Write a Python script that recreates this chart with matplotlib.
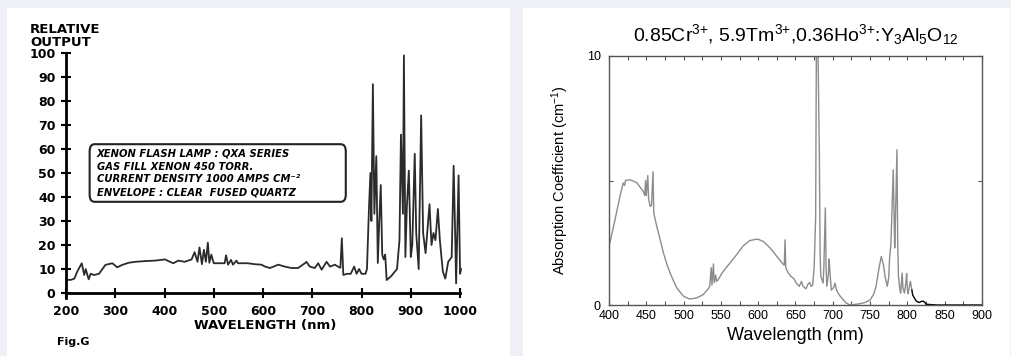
import numpy as np
import matplotlib.pyplot as plt
from matplotlib.patches import Rectangle, FancyBboxPatch

plt.rcParams['mathtext.fontset'] = 'custom'
plt.rcParams['mathtext.rm'] = 'Liberation Sans'
plt.rcParams['mathtext.it'] = 'Liberation Sans:italic'
plt.rcParams['mathtext.bf'] = 'Liberation Sans:bold'

# xenon flash lamp spectrum (left panel)
lamp_nm = [200, 210, 217, 223, 232, 237, 240, 246, 250, 257, 267, 274, 280, 294, 304, 314,
           327, 341, 361, 381, 401, 411, 418, 428, 441, 455, 461, 467, 471, 476, 480, 484,
           488, 491, 495, 500, 508, 522, 525, 529, 535, 539, 546, 549, 569, 583, 597, 603,
           614, 631, 644, 658, 671, 685, 688, 695, 705, 712, 719, 729, 736, 746, 752, 757,
           760, 763, 770, 778, 785, 790, 795, 800, 808, 811, 815, 818, 820, 823, 826, 830,
           833, 836, 839, 842, 845, 848, 851, 860, 872, 877, 880, 884, 886, 889, 892, 896,
           900, 903, 908, 911, 916, 921, 925, 930, 938, 942, 946, 950, 955, 959, 965, 970,
           976, 983, 987, 990, 992, 997, 1000, 1002]
lamp_out = [5.4, 5.5, 6, 9, 12.4, 7.5, 10, 5.7, 8, 7.5, 8, 10, 11.7, 12.4, 10.7, 11.7,
            12.6, 13, 13.3, 13.5, 14, 13, 12.4, 13.5, 13, 14, 17, 13, 19, 12, 18, 13,
            21, 12.6, 16, 12.4, 12.4, 12.4, 15.7, 11.8, 13.8, 11.8, 13.5, 12.4, 12.4, 12, 11.8, 11.1,
            10.4, 11.8, 11, 10.4, 10.4, 12.4, 13, 11, 10.4, 12.4, 9.7, 13, 11, 11.8, 11, 10.5,
            22.8, 7.5, 8, 8, 11, 8, 10, 8, 8, 10, 35, 50, 30, 87, 33, 57,
            12.5, 30, 45, 16, 14, 16, 5.4, 7, 10, 22, 66, 33, 99, 15, 36, 51,
            15, 20, 58, 25, 10, 74, 25, 16.6, 37, 20, 25, 22, 35, 22, 9, 6,
            13, 15, 53, 25, 4, 49, 8, 10]

# absorption of Cr,Tm,Ho:YAG (right panel)
abs_nm = [400, 405, 410, 415, 419, 421, 422, 428, 437, 446, 448, 449, 450, 452, 453, 455,
          457, 459, 460, 464, 468, 473, 478, 482, 486, 491, 500, 508, 517, 526, 533, 535,
          537, 538, 540, 541, 543, 544, 546, 553, 562, 571, 580, 589, 599, 607, 616, 625,
          633, 635, 636, 637, 640, 644, 648, 651, 655, 658, 660, 664, 667, 669, 671, 673,
          675, 677, 678, 680, 682, 683, 684, 687, 688, 690, 691, 692, 694, 695, 696, 698,
          701, 703, 705, 707, 710, 714, 718, 723, 736, 743, 750, 755, 758, 762, 765, 768,
          770, 773, 775, 776, 778, 781, 783, 784, 786, 787, 788, 790, 791, 793, 794, 796,
          798, 799, 800, 801, 803, 804, 806, 807, 809, 812, 816, 819, 821, 823, 825, 830,
          839, 850, 870, 900]
abs_coef = [2.35, 3.0, 3.7, 4.4, 4.9, 4.8, 5.0, 5.03, 4.92, 4.56, 4.4, 5.0, 4.4, 5.2, 4.3, 3.96,
            4.0, 5.35, 3.7, 3.16, 2.7, 2.09, 1.6, 1.28, 1.0, 0.68, 0.35, 0.24, 0.28, 0.41, 0.65, 0.75,
            1.5, 0.8, 1.65, 0.9, 1.2, 0.95, 1.0, 1.35, 1.68, 2.02, 2.38, 2.59, 2.65, 2.55, 2.29, 1.95,
            1.65, 1.6, 2.62, 1.5, 1.3, 1.15, 1.05, 0.88, 0.75, 0.95, 0.75, 0.65, 0.85, 0.9, 0.75, 0.8,
            1.5, 3.5, 10.5, 10.5, 6.0, 2.0, 1.15, 0.88, 1.5, 3.9, 1.5, 0.75, 1.2, 1.85, 1.4, 0.6,
            0.7, 0.88, 0.6, 0.48, 0.35, 0.21, 0.08, 0.0, 0.05, 0.1, 0.2, 0.45, 0.75, 1.5, 1.95, 1.6,
            1.15, 0.75, 1.1, 1.82, 2.5, 5.43, 2.29, 3.5, 6.23, 2.5, 1.15, 0.6, 0.48, 1.28, 0.7, 0.48,
            0.9, 1.26, 0.6, 0.45, 0.8, 0.95, 0.6, 0.41, 0.3, 0.15, 0.1, 0.15, 0.15, 0.12, 0.03, 0.02,
            0.0, 0.0, 0.0, 0.0]

lamp_note = ['XENON FLASH LAMP : QXA SERIES',
             'GAS FILL XENON 450 TORR.',
             'CURRENT DENSITY 1000 AMPS CM\u207b\u00b2',
             'ENVELOPE : CLEAR  FUSED QUARTZ']

fig = plt.figure(figsize=(10.12, 3.56), dpi=100)
fig.patch.set_facecolor('#eef0f6')
fig.patches.append(Rectangle((7/1012, 0), 503/1012, 1 - 8/356, transform=fig.transFigure,
                             fc='white', ec='none', zorder=-5))
fig.patches.append(Rectangle((523/1012, 0), 487/1012, 1 - 8/356, transform=fig.transFigure,
                             fc='white', ec='none', zorder=-5))

# ---- left: lamp output
ax1 = fig.add_axes([66/1012, 1 - 293/356, 398/1012, 240/356])
ax1.patch.set_alpha(0)
ax1.plot(lamp_nm, lamp_out, color='#2b2b2b', lw=1.3)
ax1.set_xlim(200, 1008)
ax1.set_ylim(0, 100)
for s in ['top', 'right']:
    ax1.spines[s].set_visible(False)
ax1.spines['left'].set_bounds(-2, 100)
ax1.spines['bottom'].set_bounds(200, 1000)
ax1.spines['left'].set_linewidth(2)
ax1.spines['bottom'].set_linewidth(2)
ax1.set_xticks(np.arange(200, 1001, 100))
ax1.set_yticks(np.arange(0, 101, 10))
ax1.tick_params(direction='inout', length=7, width=1.5, labelsize=9)
ax1.tick_params(axis='y', pad=4)
ax1.tick_params(axis='x', pad=5)
for lab in ax1.get_xticklabels() + ax1.get_yticklabels():
    lab.set_fontweight('heavy')
ax1.set_xlabel('WAVELENGTH (nm)', fontsize=9.5, fontweight='heavy', labelpad=1)
fig.text(30/1012, 1 - 23/356, 'RELATIVE\nOUTPUT', fontsize=9.5, fontweight='heavy',
         va='top', ha='left', linespacing=0.95)
fig.text(57/1012, 1 - 342/356, 'Fig.G', fontsize=8, fontweight='heavy', va='center')
ax1.add_patch(FancyBboxPatch((248, 38), 520, 24, boxstyle='round,pad=0,rounding_size=10',
                             mutation_aspect=0.3, fc='white', ec='#222222', lw=1.5))
ax1.text(262, 50, '\n'.join(lamp_note), fontsize=7.2, style='italic', fontweight='bold',
         va='center', ha='left', linespacing=1.35)

# ---- right: absorption coefficient
ax2 = fig.add_axes([609/1012, 1 - 305/356, 373/1012, 249/356])
ax2.patch.set_alpha(0)
nm = np.array(abs_nm)
coef = np.array(abs_coef)
main = nm <= 806
ax2.plot(nm[main], coef[main], color='#8c8c8c', lw=1.0)
ax2.plot(nm[nm >= 806], coef[nm >= 806], color='black', lw=1.0)
ax2.set_xlim(400, 900)
ax2.set_ylim(0, 10)
ax2.set_xticks(np.arange(400, 901, 50))
ax2.set_xticks(np.arange(400, 901, 25), minor=True)
ax2.set_yticks([0, 5, 10])
ax2.set_yticklabels(['0', '', '10'])
for s in ax2.spines.values():
    s.set_color('#555555')
    s.set_linewidth(1.0)
ax2.tick_params(which='both', direction='in', top=True, right=True, length=3, width=0.8,
                labelsize=9, colors='#555555', labelcolor='black')
ax2.tick_params(axis='y', pad=6)
ax2.set_xlabel('Wavelength (nm)', fontsize=13, family='Liberation Sans', labelpad=4)
ax2.set_ylabel('Absorption Coefficient (cm$^{-1}$)', fontsize=10.5, family='Liberation Sans',
               labelpad=11)
for lab in ax2.get_xticklabels() + ax2.get_yticklabels():
    lab.set_family('Liberation Sans')
ax2.set_title('0.85Cr$^{3{+}}$, 5.9Tm$^{3{+}}$,0.36Ho$^{3{+}}$:Y$_3$Al$_5$O$_{12}$',
              fontsize=14, family='Liberation Sans', pad=11)

fig.savefig('out.png', dpi=100, facecolor=fig.get_facecolor())
